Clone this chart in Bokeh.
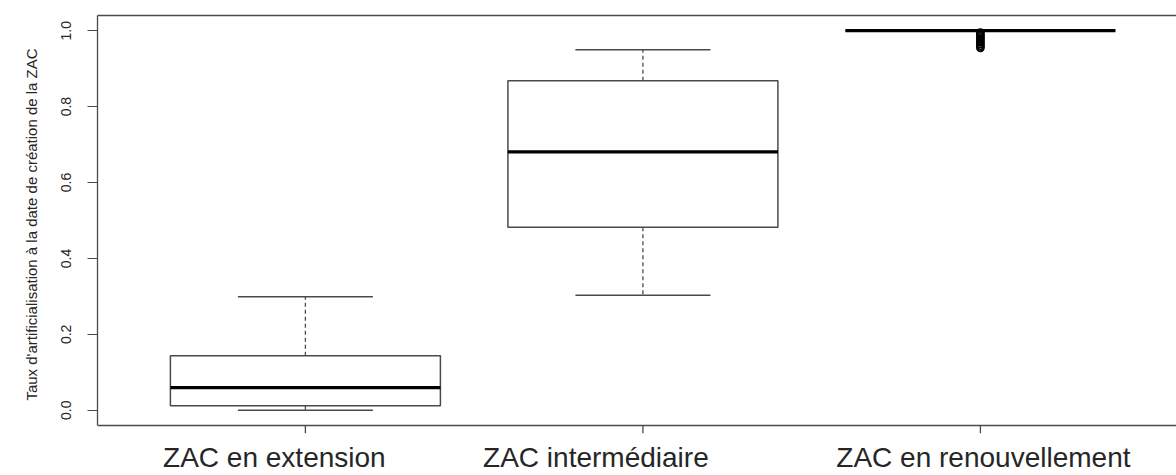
from bokeh.plotting import figure
from bokeh.models import Range1d, FixedTicker, LinearAxis, ColumnDataSource, Span
from bokeh.embed import file_html
from bokeh.resources import INLINE

# ---- data ----
categories = ["ZAC en extension", "ZAC intermédiaire", "ZAC en renouvellement"]
whisker_low = [0.0, 0.303, 1.0]
q1 = [0.012, 0.482, 1.0]
median = [0.060, 0.681, 1.0]
q3 = [0.144, 0.868, 1.0]
whisker_high = [0.299, 0.950, 1.0]
outlier_category = "ZAC en renouvellement"
outlier_values = [0.955, 0.96, 0.965, 0.97, 0.975, 0.98, 0.985, 0.99, 0.995]
y_ticks = [0.0, 0.2, 0.4, 0.6, 0.8, 1.0]
y_tick_labels = ["0.0", "0.2", "0.4", "0.6", "0.8", "1.0"]
y_title = "Taux d'artificialisation à la date de création de la ZAC"

# ---- styles ----
FONT = "Liberation Sans"
LINE = "#4a4a4a"
TEXT = "#262626"
BOX_W = 0.8
CAP_W = 0.4
label_dx = [-31, -47, 3]   # horizontal shift of the category captions (px)

W, H = 1176, 475
LEFT, TOP, BOTTOM = 97, 15, 42
X0, X1 = 0.384, 3.581
Y0, Y1 = -0.04, 1.04          # R-style 4 % padding around [0, 1]
TICK = 8                      # x tick length (px), drawn inside an extended frame
px_per_unit_x = (W - LEFT) / (X1 - X0)
frame_h = H - TOP - BOTTOM
px_per_unit_y = (frame_h - TICK) / (Y1 - Y0)
y_start = Y0 - TICK / px_per_unit_y

pos = [i + 1 for i in range(len(categories))]
src = ColumnDataSource(dict(
    x=pos,
    xl=[p - BOX_W / 2 for p in pos], xr=[p + BOX_W / 2 for p in pos],
    cl=[p - CAP_W / 2 for p in pos], cr=[p + CAP_W / 2 for p in pos],
    wl=whisker_low, q1=q1, med=median, q3=q3, wh=whisker_high,
    t0=[Y0] * len(pos), t1=[y_start] * len(pos),
))

p = figure(width=W, height=H, output_backend="svg", toolbar_location=None,
           x_range=Range1d(X0, X1), y_range=Range1d(y_start, Y1),
           min_border_left=LEFT, min_border_right=0, min_border_top=TOP,
           min_border_bottom=BOTTOM)
p.outline_line_color = None
p.xgrid.grid_line_color = None
p.ygrid.grid_line_color = None

# bottom frame line and x tick marks
p.add_layout(Span(location=Y0, dimension="width", line_color=LINE, line_width=1.3))
p.segment(x0="x", y0="t0", x1="x", y1="t1", source=src, line_color=LINE, line_width=1.3)

# whiskers (dashed)
p.segment(x0="x", y0="q3", x1="x", y1="wh", source=src, line_color=LINE,
          line_width=1.3, line_dash="4 3")
p.segment(x0="x", y0="q1", x1="x", y1="wl", source=src, line_color=LINE,
          line_width=1.3, line_dash="4 3")
# caps
p.segment(x0="cl", y0="wh", x1="cr", y1="wh", source=src, line_color=LINE, line_width=1.5)
p.segment(x0="cl", y0="wl", x1="cr", y1="wl", source=src, line_color=LINE, line_width=1.5)
# boxes
p.quad(left="xl", right="xr", bottom="q1", top="q3", source=src,
       fill_color="white", line_color=LINE, line_width=1.5)
# medians
p.segment(x0="xl", y0="med", x1="xr", y1="med", source=src, line_color="black",
          line_width=3.2)
# outliers
ox = [categories.index(outlier_category) + 1] * len(outlier_values)
p.scatter(x=ox, y=outlier_values, marker="circle", size=7, fill_color=None,
          line_color="black", line_width=1.8)

# left axis
ya = p.yaxis[0]
ya.bounds = (Y0, Y1)
ya.ticker = FixedTicker(ticks=y_ticks)
ya.major_label_overrides = {t: s for t, s in zip(y_ticks, y_tick_labels)}
ya.major_label_orientation = "vertical"
ya.major_label_text_font = FONT
ya.major_label_text_font_size = "14px"
ya.major_label_text_color = TEXT
ya.major_label_standoff = 16
ya.major_tick_out = 10
ya.major_tick_in = 0
ya.minor_tick_line_color = None
ya.major_tick_line_color = LINE
ya.axis_line_color = LINE
ya.axis_line_width = 1.3
ya.axis_label = y_title
ya.axis_label_text_font = FONT
ya.axis_label_text_font_size = "15px"
ya.axis_label_text_font_style = "normal"
ya.axis_label_text_color = TEXT
ya.axis_label_standoff = 19

# bottom axis: the category captions (shifted as in the reference)
cap_ticks = [round(pos[i] + label_dx[i] / px_per_unit_x, 4) for i in range(len(pos))]
xa = p.xaxis[0]
xa.ticker = FixedTicker(ticks=cap_ticks)
xa.major_label_overrides = {t: s for t, s in zip(cap_ticks, categories)}
xa.major_tick_out = 0
xa.major_tick_in = 0
xa.major_tick_line_color = None
xa.minor_tick_line_color = None
xa.axis_line_color = None
xa.major_label_standoff = 8
xa.major_label_text_font = FONT
xa.major_label_text_font_size = "28px"
xa.major_label_text_color = TEXT

# top frame line
top = LinearAxis(ticker=FixedTicker(ticks=[]), major_tick_out=0, major_tick_in=0,
                 major_label_standoff=0, major_label_text_font_size="0px",
                 axis_line_color=LINE, axis_line_width=1.3,
                 minor_tick_line_color=None)
p.add_layout(top, "above")

open("out.html", "w").write(file_html(p, INLINE))
